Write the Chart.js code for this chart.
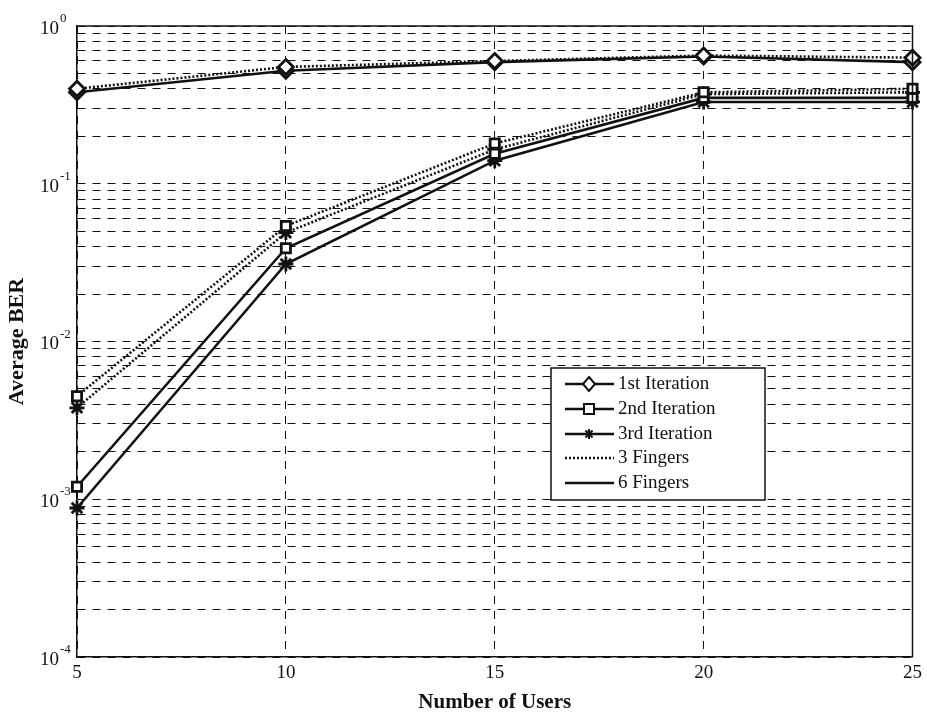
<!DOCTYPE html>
<html>
<head>
<meta charset="utf-8">
<title>Average BER vs Number of Users</title>
<script src="https://cdn.jsdelivr.net/npm/chart.js@4/dist/chart.umd.min.js"></script>
<style>
  html, body { margin: 0; padding: 0; background: #fff; }
  #wrap { width: 927px; height: 717px; }
</style>
</head>
<body>
<div id="wrap"><canvas id="ber" width="927" height="717"></canvas></div>
<script>
// number of users on the x axis
var users = [5, 10, 15, 20, 25];

// average BER per iteration, 3 and 6 rake fingers
var iter1_3f = [0.40, 0.55, 0.60, 0.65, 0.63];
var iter1_6f = [0.38, 0.52, 0.59, 0.64, 0.59];
var iter2_3f = [0.0045, 0.054, 0.18, 0.38, 0.40];
var iter2_6f = [0.0012, 0.039, 0.155, 0.35, 0.35];
var iter3_3f = [0.0038, 0.049, 0.165, 0.37, 0.38];
var iter3_6f = [0.00088, 0.031, 0.14, 0.33, 0.33];

// decade exponents labelled on the y axis
var yExponents = [0, -1, -2, -3, -4];

var legendItems = ["1st Iteration", "2nd Iteration", "3rd Iteration", "3 Fingers", "6 Fingers"];

var SERIF = "'Liberation Serif', 'Times New Roman', serif";

function pts(vals) {
  return users.map(function (u, i) { return { x: u, y: vals[i] }; });
}

function series(label, vals, marker, dotted) {
  return {
    label: label,
    data: pts(vals),
    borderColor: "#111",
    borderWidth: 2.6,
    borderDash: dotted ? [2, 2] : [],
    pointStyle: marker,
    pointRadius: marker === "rect" ? 6.5 : 7.5,
    pointBorderWidth: 2.8,
    pointBorderColor: "#111",
    pointBackgroundColor: marker === "star" ? "#111" : "#fff",
    tension: 0,
    fill: false,
    clip: false
  };
}

// small marker shapes for the legend box
function marker(ctx, kind, x, y) {
  ctx.save();
  ctx.lineWidth = 2;
  ctx.strokeStyle = "#111";
  ctx.fillStyle = "#fff";
  ctx.setLineDash([]);
  ctx.beginPath();
  if (kind === "diamond") {
    ctx.moveTo(x, y - 7); ctx.lineTo(x + 6, y); ctx.lineTo(x, y + 7); ctx.lineTo(x - 6, y); ctx.closePath();
    ctx.fill(); ctx.stroke();
  } else if (kind === "square") {
    ctx.rect(x - 5, y - 5, 10, 10);
    ctx.fill(); ctx.stroke();
  } else if (kind === "star") {
    for (var a = 0; a < 4; a++) {
      var t = a * Math.PI / 4;
      ctx.moveTo(x - 5 * Math.cos(t), y - 5 * Math.sin(t));
      ctx.lineTo(x + 5 * Math.cos(t), y + 5 * Math.sin(t));
    }
    ctx.stroke();
  }
  ctx.restore();
}

var decor = {
  id: "decor",
  afterDraw: function (chart) {
    var ctx = chart.ctx;
    var area = chart.chartArea;
    var ys = chart.scales.y;

    // top and right edges of the axes box
    ctx.save();
    ctx.strokeStyle = "#111";
    ctx.lineWidth = 1.5;
    ctx.beginPath();
    ctx.moveTo(area.left, area.top);
    ctx.lineTo(area.right, area.top);
    ctx.lineTo(area.right, area.bottom);
    ctx.stroke();

    // y labels written as 10 with a raised exponent
    ctx.fillStyle = "#111";
    yExponents.forEach(function (e) {
      var y = ys.getPixelForValue(Math.pow(10, e));
      ctx.font = "19px " + SERIF;
      ctx.textAlign = "right";
      ctx.textBaseline = "middle";
      ctx.fillText("10", 59, y + 3);
      ctx.font = "13px " + SERIF;
      ctx.textAlign = "left";
      ctx.textBaseline = "alphabetic";
      ctx.fillText(e === 0 ? "0" : "-" + Math.abs(e), 60, y - 4);
    });

    // legend box
    var bx = 551, by = 368, bw = 214, bh = 132;
    ctx.fillStyle = "#fff";
    ctx.fillRect(bx, by, bw, bh);
    ctx.lineWidth = 1.5;
    ctx.strokeRect(bx, by, bw, bh);
    var kinds = ["diamond", "square", "star", null, null];
    var rows = [384, 409, 434, 458, 483];
    legendItems.forEach(function (txt, i) {
      var y = rows[i];
      ctx.save();
      ctx.strokeStyle = "#111";
      ctx.lineWidth = 2.5;
      ctx.setLineDash(i === 3 ? [2, 2] : []);
      ctx.beginPath();
      ctx.moveTo(565, y);
      ctx.lineTo(614, y);
      ctx.stroke();
      ctx.restore();
      if (kinds[i]) marker(ctx, kinds[i], 589, y);
      ctx.fillStyle = "#111";
      ctx.font = "19px " + SERIF;
      ctx.textAlign = "left";
      ctx.textBaseline = "middle";
      ctx.fillText(txt, 618, y);
    });
    ctx.restore();
  }
};

new Chart(document.getElementById("ber"), {
  type: "line",
  data: {
    datasets: [
      series("1st Iteration, 3 Fingers", iter1_3f, "rectRot", true),
      series("1st Iteration, 6 Fingers", iter1_6f, "rectRot", false),
      series("2nd Iteration, 3 Fingers", iter2_3f, "rect", true),
      series("2nd Iteration, 6 Fingers", iter2_6f, "rect", false),
      series("3rd Iteration, 3 Fingers", iter3_3f, "star", true),
      series("3rd Iteration, 6 Fingers", iter3_6f, "star", false)
    ]
  },
  options: {
    responsive: false,
    animation: false,
    devicePixelRatio: 1,
    layout: { padding: { top: 26, right: 12, left: 0, bottom: 0 } },
    plugins: {
      legend: { display: false },
      tooltip: { enabled: false }
    },
    scales: {
      x: {
        type: "linear",
        min: 5,
        max: 25,
        ticks: {
          stepSize: 5,
          color: "#111",
          padding: 5,
          font: { family: SERIF, size: 19 }
        },
        grid: { color: "#111", lineWidth: 1, drawTicks: false },
        border: { display: true, color: "#111", width: 1.5, dash: [8, 7] },
        title: {
          display: true,
          text: "Number of Users",
          color: "#111",
          font: { family: SERIF, size: 21, weight: "bold" },
          padding: { top: 0, bottom: 2 }
        },
        afterFit: function (s) { s.height = 60; }
      },
      y: {
        type: "logarithmic",
        min: 1e-4,
        max: 1,
        afterBuildTicks: function (s) {
          var t = [];
          for (var e = -4; e < 0; e++) {
            for (var m = 1; m < 10; m++) t.push({ value: m * Math.pow(10, e) });
          }
          t.push({ value: 1 });
          s.ticks = t;
        },
        ticks: { display: false },
        grid: { color: "#111", lineWidth: 1, drawTicks: false },
        border: { display: true, color: "#111", width: 1.5, dash: [8, 7] },
        title: {
          display: true,
          text: "Average BER",
          color: "#111",
          font: { family: SERIF, size: 22, weight: "bold" },
          padding: { top: 4, bottom: 0 }
        },
        afterFit: function (s) { s.width = 77; }
      }
    }
  },
  plugins: [decor]
});
</script>
</body>
</html>
